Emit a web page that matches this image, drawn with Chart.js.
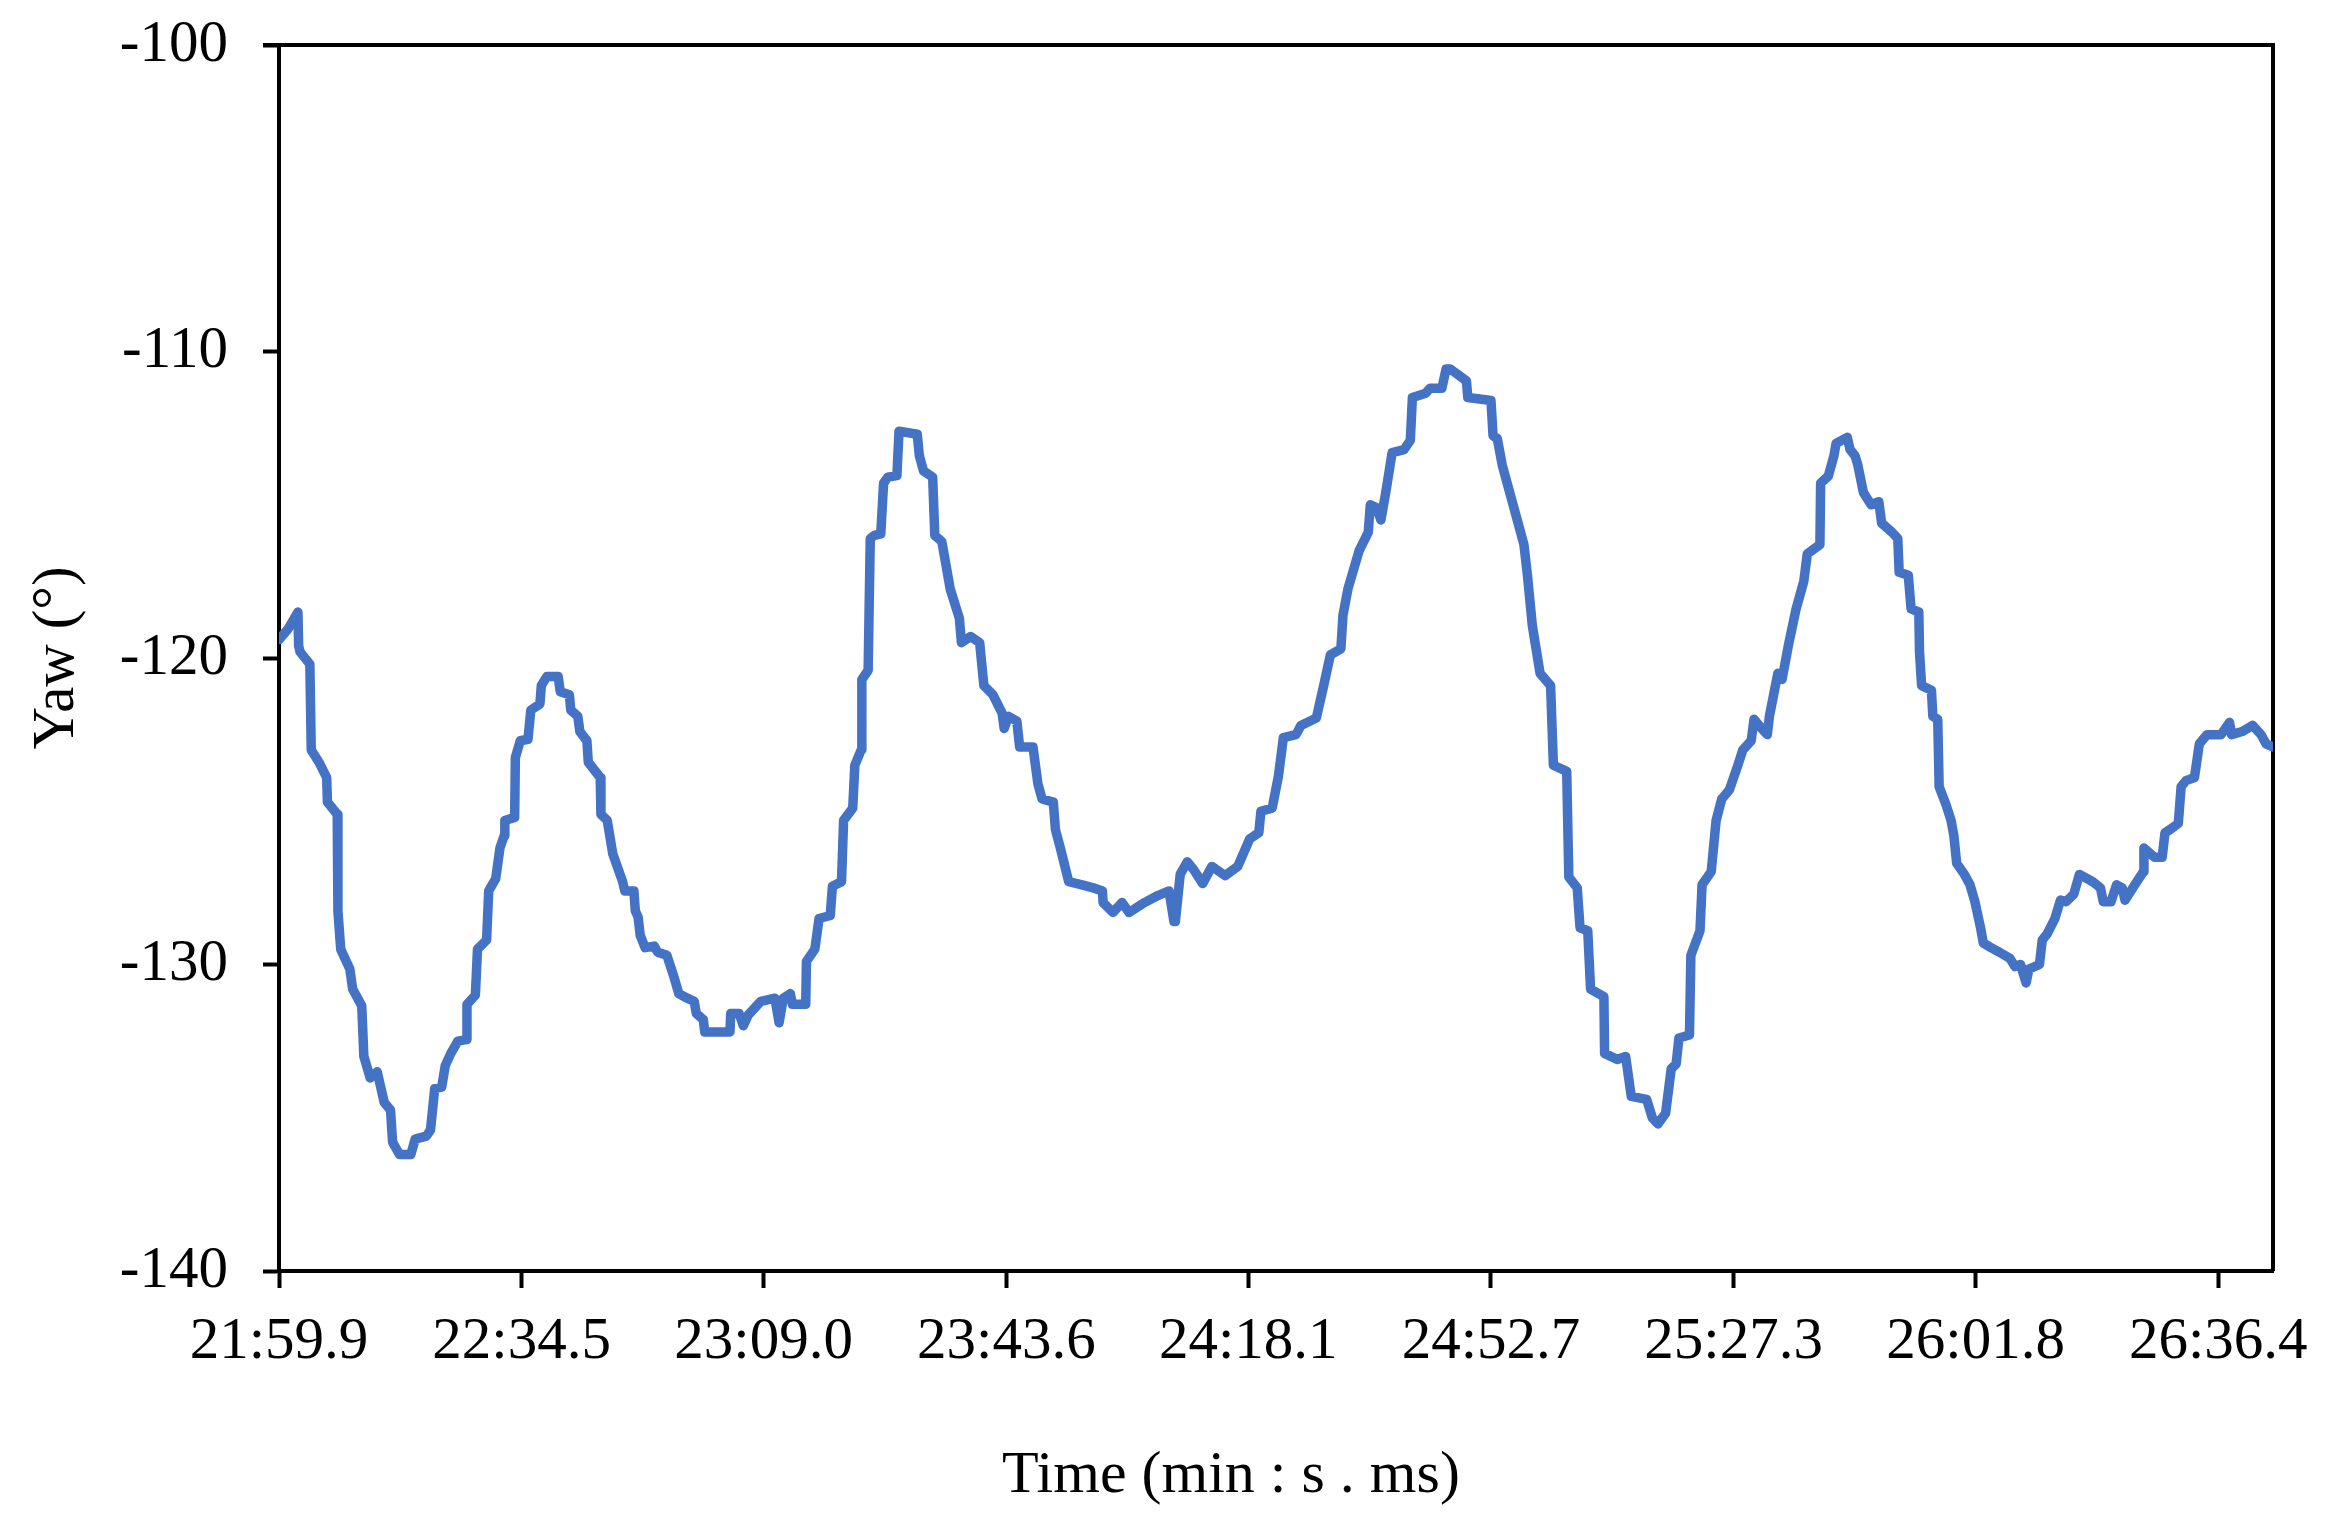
<!DOCTYPE html>
<html>
<head>
<meta charset="utf-8">
<title>Yaw vs time</title>
<script src="https://cdn.jsdelivr.net/npm/chart.js@4.4.1/dist/chart.umd.min.js"></script>
<style>
    html, body { margin: 0; padding: 0; background: #fff; }
    #wrap { width: 2337px; height: 1525px; position: relative; }
</style>
</head>
<body>
<div id="wrap"><canvas id="yawChart"></canvas></div>
<script>
// yaw.js - yaw angle trace

// time of each sample in seconds (min * 60 + s)
const timeSec = [
    1319.9, 1321.2, 1322.6, 1322.7, 1322.9, 1324.3, 1324.5, 1325.6, 1326.7, 1326.8,
    1328.2, 1328.3, 1328.7, 1330.0, 1330.4, 1331.7, 1332.0, 1332.9, 1333.9, 1334.9,
    1335.8, 1336.1, 1337.1, 1338.7, 1339.3, 1340.9, 1341.5, 1342.1, 1343.1, 1343.6,
    1344.4, 1345.4, 1346.6, 1346.7, 1347.9, 1348.2, 1349.5, 1349.8, 1350.8, 1351.4,
    1352.0, 1352.1, 1353.5, 1353.6, 1354.3, 1355.4, 1355.8, 1357.1, 1357.3, 1358.1,
    1359.7, 1360.0, 1361.3, 1361.5, 1362.5, 1362.8, 1363.8, 1364.0, 1365.7, 1365.8,
    1366.7, 1367.5, 1368.9, 1369.2, 1370.5, 1370.7, 1371.1, 1371.4, 1372.1, 1373.4,
    1373.9, 1375.2, 1376.2, 1376.9, 1378.1, 1379.1, 1379.4, 1380.4, 1380.6, 1384.2,
    1384.3, 1385.5, 1386.1, 1386.8, 1388.6, 1390.6, 1391.2, 1391.8, 1392.8, 1393.1,
    1395.0, 1395.1, 1396.3, 1396.9, 1398.5, 1398.8, 1400.1, 1400.4, 1401.7, 1402.0,
    1402.9, 1403.0, 1403.9, 1404.2, 1404.8, 1405.7, 1406.1, 1406.7, 1408.0, 1408.3,
    1410.9, 1411.2, 1411.8, 1413.1, 1413.4, 1414.4, 1415.0, 1415.6, 1416.9, 1417.2,
    1418.5, 1419.8, 1420.4, 1421.7, 1423.0, 1423.3, 1423.9, 1425.1, 1425.5, 1427.4,
    1428.1, 1428.7, 1430.3, 1430.6, 1431.3, 1432.5, 1434.4, 1436.0, 1437.3, 1437.4,
    1438.8, 1440.1, 1441.1, 1443.3, 1445.2, 1446.8, 1447.5, 1447.7, 1448.4, 1449.4,
    1450.3, 1451.6, 1452.9, 1454.8, 1456.6, 1458.3, 1459.6, 1459.9, 1461.5, 1462.4,
    1463.1, 1464.9, 1465.6, 1467.8, 1468.8, 1469.8, 1471.3, 1471.6, 1472.3, 1473.9,
    1475.2, 1475.5, 1476.4, 1477.0, 1477.7, 1478.6, 1480.3, 1481.2, 1481.5, 1483.4,
    1484.0, 1485.7, 1486.3, 1486.9, 1489.2, 1489.4, 1492.7, 1493.0, 1493.6, 1494.3,
    1497.4, 1497.9, 1498.6, 1499.7, 1501.2, 1501.6, 1503.5, 1503.8, 1505.0, 1505.4,
    1506.5, 1506.9, 1508.8, 1508.9, 1510.7, 1511.9, 1512.7, 1514.9, 1515.7, 1516.5,
    1517.6, 1518.4, 1519.1, 1519.5, 1521.0, 1521.2, 1522.5, 1522.8, 1524.1, 1524.8,
    1525.6, 1526.7, 1527.9, 1528.6, 1529.8, 1530.2, 1531.3, 1532.1, 1532.4, 1533.6,
    1534.2, 1535.1, 1536.2, 1537.3, 1537.8, 1539.6, 1539.7, 1540.8, 1541.6, 1541.9,
    1543.5, 1543.9, 1544.6, 1545.0, 1545.8, 1546.9, 1548.0, 1548.4, 1549.9, 1550.7,
    1550.9, 1552.2, 1552.6, 1553.7, 1553.8, 1554.1, 1555.5, 1555.7, 1556.4, 1556.6,
    1557.6, 1558.3, 1558.7, 1559.1, 1560.2, 1561.0, 1561.7, 1562.5, 1562.9, 1564.0,
    1565.2, 1566.7, 1567.4, 1568.2, 1569.0, 1569.4, 1570.9, 1571.3, 1572.0, 1573.1,
    1573.9, 1574.7, 1575.8, 1576.6, 1578.5, 1579.6, 1580.0, 1581.1, 1581.9, 1582.7,
    1583.1, 1584.5, 1585.7, 1585.8, 1587.3, 1588.4, 1588.8, 1589.5, 1590.7, 1591.1,
    1591.8, 1593.0, 1593.7, 1594.8, 1596.8, 1598.0, 1598.3, 1599.8, 1601.3, 1602.5,
    1603.2, 1604.2
];

// yaw angle in degrees, same order as timeSec
const yawDeg = [
    -119.4, -119.05, -118.5, -119.6, -119.8, -120.2, -123.0, -123.4, -123.9, -124.7,
    -125.1, -128.25, -129.5, -130.15, -130.8, -131.35, -133.0, -133.7, -133.5, -134.5,
    -134.75, -135.8, -136.2, -136.2, -135.7, -135.6, -135.4, -134.05, -134.0, -133.3,
    -132.9, -132.5, -132.45, -131.3, -131.0, -129.5, -129.2, -127.6, -127.2, -126.2,
    -125.8, -125.3, -125.2, -123.25, -122.7, -122.65, -121.7, -121.5, -120.9, -120.6,
    -120.6, -121.1, -121.2, -121.7, -121.9, -122.4, -122.7, -123.4, -123.9, -125.1,
    -125.3, -126.4, -127.3, -127.6, -127.6, -128.25, -128.45, -129.05, -129.45, -129.4,
    -129.6, -129.7, -130.4, -130.95, -131.1, -131.2, -131.6, -131.8, -132.2, -132.2,
    -131.6, -131.6, -132.0, -131.65, -131.2, -131.1, -131.9, -131.1, -130.95, -131.3,
    -131.3, -129.9, -129.5, -128.5, -128.4, -127.45, -127.3, -125.3, -124.9, -123.5,
    -123.0, -120.7, -120.4, -116.1, -116.0, -115.95, -114.3, -114.1, -114.05, -112.6,
    -112.7, -113.4, -113.9, -114.1, -116.0, -116.2, -116.97, -117.75, -118.7, -119.5,
    -119.3, -119.5, -120.9, -121.2, -121.8, -122.3, -121.9, -122.06, -122.9, -122.9,
    -124.1, -124.6, -124.7, -125.6, -126.2, -127.3, -127.4, -127.5, -127.6, -127.98,
    -128.3, -127.98, -128.3, -127.98, -127.75, -127.6, -128.6, -128.6, -127.05, -126.65,
    -126.9, -127.36, -126.8, -127.1, -126.8, -125.9, -125.7, -125.0, -124.9, -123.85,
    -122.6, -122.5, -122.2, -121.96, -120.95, -119.9, -119.7, -118.6, -117.75, -116.5,
    -115.9, -115.0, -115.1, -115.5, -114.6, -113.3, -113.2, -112.9, -111.5, -111.36,
    -111.2, -111.2, -110.57, -110.57, -110.96, -111.5, -111.6, -112.75, -112.84, -113.7,
    -116.3, -117.3, -118.95, -120.5, -120.9, -123.5, -123.7, -127.15, -127.5, -128.8,
    -128.9, -130.8, -131.05, -132.9, -133.1, -133.0, -134.3, -134.4, -135.0, -135.2,
    -134.85, -133.4, -133.25, -132.4, -132.3, -129.7, -128.9, -127.4, -126.97, -125.3,
    -124.6, -124.3, -123.5, -123.0, -122.7, -122.0, -122.3, -122.5, -121.9, -120.5,
    -120.7, -119.6, -118.4, -117.5, -116.6, -116.3, -114.3, -114.06, -113.4, -113.0,
    -112.8, -113.2, -113.4, -113.7, -114.6, -115.0, -114.9, -115.6, -115.9, -116.1,
    -117.2, -117.3, -118.4, -118.5, -119.8, -120.9, -121.05, -121.9, -122.0, -124.2,
    -124.8, -125.3, -125.8, -126.7, -127.06, -127.4, -127.95, -128.8, -129.3, -129.45,
    -129.6, -129.8, -130.07, -130.0, -130.6, -130.15, -130.0, -129.2, -129.0, -128.5,
    -127.9, -127.95, -127.7, -127.06, -127.3, -127.5, -127.95, -127.95, -127.4, -127.5,
    -127.9, -127.4, -126.98, -126.2, -126.5, -126.5, -125.7, -125.6, -125.4, -124.2,
    -124.0, -123.9, -122.8, -122.5, -122.5, -122.1, -122.5, -122.4, -122.2, -122.5,
    -122.8, -122.9
];

// x axis tick labels (min:s.ms) and y range
const xTickLabels = ['21:59.9', '22:34.5', '23:09.0', '23:43.6', '24:18.1',
                     '24:52.7', '25:27.3', '26:01.8', '26:36.4'];
const xEndSec = 1604.2;
const yTicks = [-140, -130, -120, -110, -100];

const X_TITLE = 'Time (min : s . ms)';
const Y_TITLE = 'Yaw (°)';
const FONT = '"Liberation Serif", "Times New Roman", serif';

function labelToSeconds(label) {
    const [m, s] = label.split(':');
    return parseInt(m, 10) * 60 + parseFloat(s);
}
const xTickSec = xTickLabels.map(labelToSeconds);

// top and right edges of the plot box
const frameBox = {
    id: 'frameBox',
    beforeDatasetsDraw(chart) {
        const { ctx, chartArea } = chart;
        ctx.save();
        ctx.strokeStyle = '#000';
        ctx.lineWidth = 4;
        ctx.beginPath();
        ctx.moveTo(chartArea.left - 16, chartArea.top);
        ctx.lineTo(chartArea.right, chartArea.top);
        ctx.lineTo(chartArea.right, chartArea.bottom);
        ctx.stroke();
        ctx.restore();
    }
};

// x axis title sits a little left of the plot centre in the original
const xTitle = {
    id: 'xTitle',
    afterDraw(chart) {
        const { ctx, chartArea } = chart;
        ctx.save();
        ctx.font = '60px ' + FONT;
        ctx.fillStyle = '#000';
        ctx.textAlign = 'center';
        ctx.textBaseline = 'alphabetic';
        ctx.fillText(X_TITLE, chartArea.left + (chartArea.right - chartArea.left) * 0.4774, 1492);
        ctx.restore();
    }
};

const points = timeSec.map((t, i) => ({ x: t, y: yawDeg[i] }));

new Chart(document.getElementById('yawChart'), {
    type: 'line',
    data: {
        datasets: [{
            label: 'Yaw',
            data: points,
            borderColor: '#4472C4',
            borderWidth: 9.5,
            borderJoinStyle: 'round',
            borderCapStyle: 'round',
            pointRadius: 0,
            tension: 0,
            fill: false
        }]
    },
    options: {
        responsive: true,
        maintainAspectRatio: false,
        animation: false,
        devicePixelRatio: 1,
        layout: { padding: { top: 45, right: 64, bottom: 0, left: 0 } },
        plugins: {
            legend: { display: false },
            tooltip: { enabled: false }
        },
        scales: {
            x: {
                type: 'linear',
                min: xTickSec[0],
                max: xEndSec,
                afterBuildTicks: (scale) => {
                    scale.ticks = xTickSec.map(v => ({ value: v }));
                },
                afterFit: (scale) => { scale.height = 254; },
                ticks: {
                    autoSkip: false,
                    maxRotation: 0,
                    padding: 19,
                    color: '#000',
                    font: { family: FONT, size: 59, lineHeight: 1.2 },
                    callback: (value, index) => xTickLabels[index]
                },
                grid: {
                    display: true,
                    drawOnChartArea: false,
                    drawTicks: true,
                    tickLength: 17,
                    tickWidth: 4,
                    tickColor: '#000'
                },
                border: { display: true, color: '#000', width: 4 },
                title: { display: false }
            },
            y: {
                min: yTicks[0],
                max: yTicks[yTicks.length - 1],
                afterBuildTicks: (scale) => {
                    scale.ticks = yTicks.map(v => ({ value: v }));
                },
                afterFit: (scale) => { scale.width = 279; },
                ticks: {
                    padding: 35,
                    color: '#000',
                    // small lineHeight keeps the label overflow from pushing the plot top down
                    font: { family: FONT, size: 59, lineHeight: 0.1 },
                    callback: (value) => String(value)
                },
                grid: {
                    display: true,
                    drawOnChartArea: false,
                    drawTicks: true,
                    tickLength: 16,
                    tickWidth: 4,
                    tickColor: '#000'
                },
                border: { display: true, color: '#000', width: 4 },
                title: {
                    display: true,
                    text: Y_TITLE,
                    color: '#000',
                    font: { family: FONT, size: 59, lineHeight: 1.2 },
                    padding: { top: 22, bottom: 0 }
                }
            }
        }
    },
    plugins: [frameBox, xTitle]
});
</script>
</body>
</html>
